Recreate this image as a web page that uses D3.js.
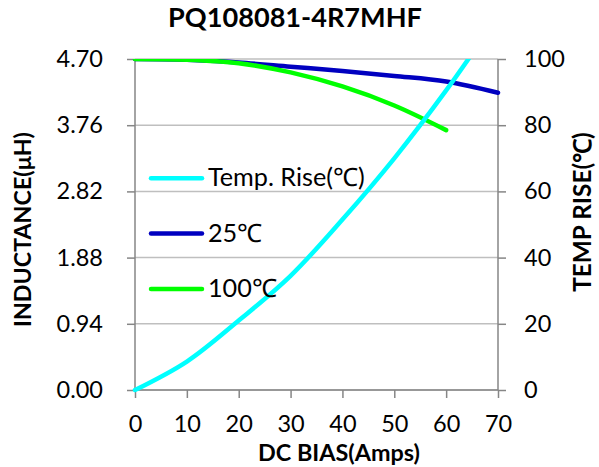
<!DOCTYPE html>
<html>
<head>
<meta charset="utf-8">
<script src="https://cdn.jsdelivr.net/npm/d3@7/dist/d3.min.js"></script>
<style>
  html, body { margin: 0; padding: 0; background: #fff; }
  svg { display: block; }
  text { font-family: Lato, "Liberation Sans", sans-serif; fill: #000; }
</style>
</head>
<body>
<svg id="chart" width="599" height="467"></svg>
<script>
// ---- data ----
const biasAmps   = [0, 10, 20, 30, 40, 50, 60, 70];
const ind25      = [4.70, 4.69, 4.65, 4.59, 4.53, 4.46, 4.38, 4.22];
const bias100    = [0, 10, 20, 30, 40, 50, 60];
const ind100     = [4.70, 4.69, 4.64, 4.51, 4.31, 4.04, 3.69];
const tempRise   = [0, 8.6, 21, 34.5, 51.5, 70, 90.5, 113];
const xTicks     = [0, 10, 20, 30, 40, 50, 60, 70];
const yLeftTicks = [0.00, 0.94, 1.88, 2.82, 3.76, 4.70];
const yRightTicks= [0, 20, 40, 60, 80, 100];
const seriesNames = ["Temp. Rise(\u2103)", "25\u2103", "100\u2103"];
const seriesColors = ["#00FFFF", "#0000C0", "#00FF00"];

const svg = d3.select("#chart");
const m = {left: 135, right: 498, top: 59, bottom: 390};

const x = d3.scaleLinear().domain([0, 70]).range([m.left, m.right]);
const yL = d3.scaleLinear().domain([0, 4.70]).range([m.bottom, m.top]);
const yR = d3.scaleLinear().domain([0, 100]).range([m.bottom, m.top]);

const gridColor = "#BFBFBF";
const axisColor = "#868686";

function fitWidth(sel, target) {
  const w = sel.node().getComputedTextLength();
  const fs = parseFloat(sel.style("font-size"));
  if (w > 0) sel.style("font-size", (fs * target / w) + "px");
  return parseFloat(sel.style("font-size"));
}

// gridlines
svg.append("g").selectAll("line").data(yLeftTicks).join("line")
  .attr("x1", m.left).attr("x2", m.right)
  .attr("y1", d => yL(d)).attr("y2", d => yL(d))
  .attr("stroke", gridColor).attr("stroke-width", 1.5);

// axes
const gL = svg.append("g").attr("transform", `translate(${m.left},0)`)
  .call(d3.axisLeft(yL).tickValues(yLeftTicks).tickFormat(d3.format(".2f")).tickSize(8).tickPadding(24));
const gR = svg.append("g").attr("transform", `translate(${m.right},0)`)
  .call(d3.axisRight(yR).tickValues(yRightTicks).tickFormat(d3.format("d")).tickSize(8).tickPadding(18));
const gB = svg.append("g").attr("transform", `translate(0,${m.bottom})`)
  .call(d3.axisBottom(x).tickValues(xTicks).tickFormat(d3.format("d")).tickSize(8).tickPadding(17));

[gL, gR, gB].forEach(g => {
  g.select(".domain").attr("stroke", axisColor).attr("stroke-width", 1.5);
  g.selectAll(".tick line").attr("stroke", axisColor).attr("stroke-width", 1.5);
  g.selectAll(".tick text").style("font-family", "Lato, 'Liberation Sans', sans-serif")
    .style("font-size", "23.5px").attr("fill", "#000");
});
gL.select(".domain").attr("d", `M0,${m.bottom}V${m.top}`);
gR.select(".domain").attr("d", `M0,${m.bottom}V${m.top}`);
gB.select(".domain").attr("d", `M${m.left},0H${m.right}`);

// clip
svg.append("clipPath").attr("id", "plotclip").append("rect")
  .attr("x", m.left - 4).attr("y", m.top).attr("width", m.right - m.left + 8).attr("height", m.bottom - m.top + 4);

const plot = svg.append("g").attr("clip-path", "url(#plotclip)");

const lineTemp = d3.line().x((d, i) => x(biasAmps[i])).y(d => yR(d)).curve(d3.curveCatmullRom);
const line25 = d3.line().x((d, i) => x(biasAmps[i])).y(d => yL(d)).curve(d3.curveCatmullRom);
const line100 = d3.line().x((d, i) => x(bias100[i])).y(d => yL(d)).curve(d3.curveCatmullRom);

plot.append("path").attr("d", line25(ind25))
  .attr("fill", "none").attr("stroke", seriesColors[1]).attr("stroke-width", 4.5).attr("stroke-linecap", "round");
plot.append("path").attr("d", line100(ind100))
  .attr("fill", "none").attr("stroke", seriesColors[2]).attr("stroke-width", 4.5).attr("stroke-linecap", "round");
plot.append("path").attr("d", lineTemp(tempRise))
  .attr("fill", "none").attr("stroke", seriesColors[0]).attr("stroke-width", 4.5).attr("stroke-linecap", "round");

// legend
const legLineY = [178.3, 233.5, 289];
const legTextY = [186, 241.5, 297];
const leg = svg.append("g");
let legFont = 24;
seriesNames.forEach((name, i) => {
  leg.append("line").attr("x1", 151).attr("x2", 202).attr("y1", legLineY[i]).attr("y2", legLineY[i])
    .attr("stroke", seriesColors[i]).attr("stroke-width", 4.5).attr("stroke-linecap", "round");
  const t = leg.append("text").attr("x", 208).attr("y", legTextY[i])
    .style("font-size", legFont + "px").text(name);
  if (i === 0) legFont = fitWidth(t, 157);
});

// title
const title = svg.append("text").attr("x", 295).attr("y", 27).attr("text-anchor", "middle")
  .style("font-size", "24px").style("font-weight", "bold").text("PQ108081-4R7MHF");
fitWidth(title, 254);

// x label
const xl = svg.append("text").attr("x", 339).attr("y", 461).attr("text-anchor", "middle")
  .style("font-size", "22px").style("font-weight", "bold").text("DC BIAS(Amps)");
fitWidth(xl, 162);

// left y label
const ll = svg.append("text").attr("transform", "translate(31,229.5) rotate(-90)").attr("text-anchor", "middle")
  .style("font-size", "22px").style("font-weight", "bold").text("INDUCTANCE(\u03BCH)");
fitWidth(ll, 195);

// right y label
const rl = svg.append("text").attr("transform", "translate(591,212) rotate(-90)").attr("text-anchor", "middle")
  .style("font-size", "22px").style("font-weight", "bold").text("TEMP RISE(\u2103)");
fitWidth(rl, 160);
</script>
</body>
</html>
